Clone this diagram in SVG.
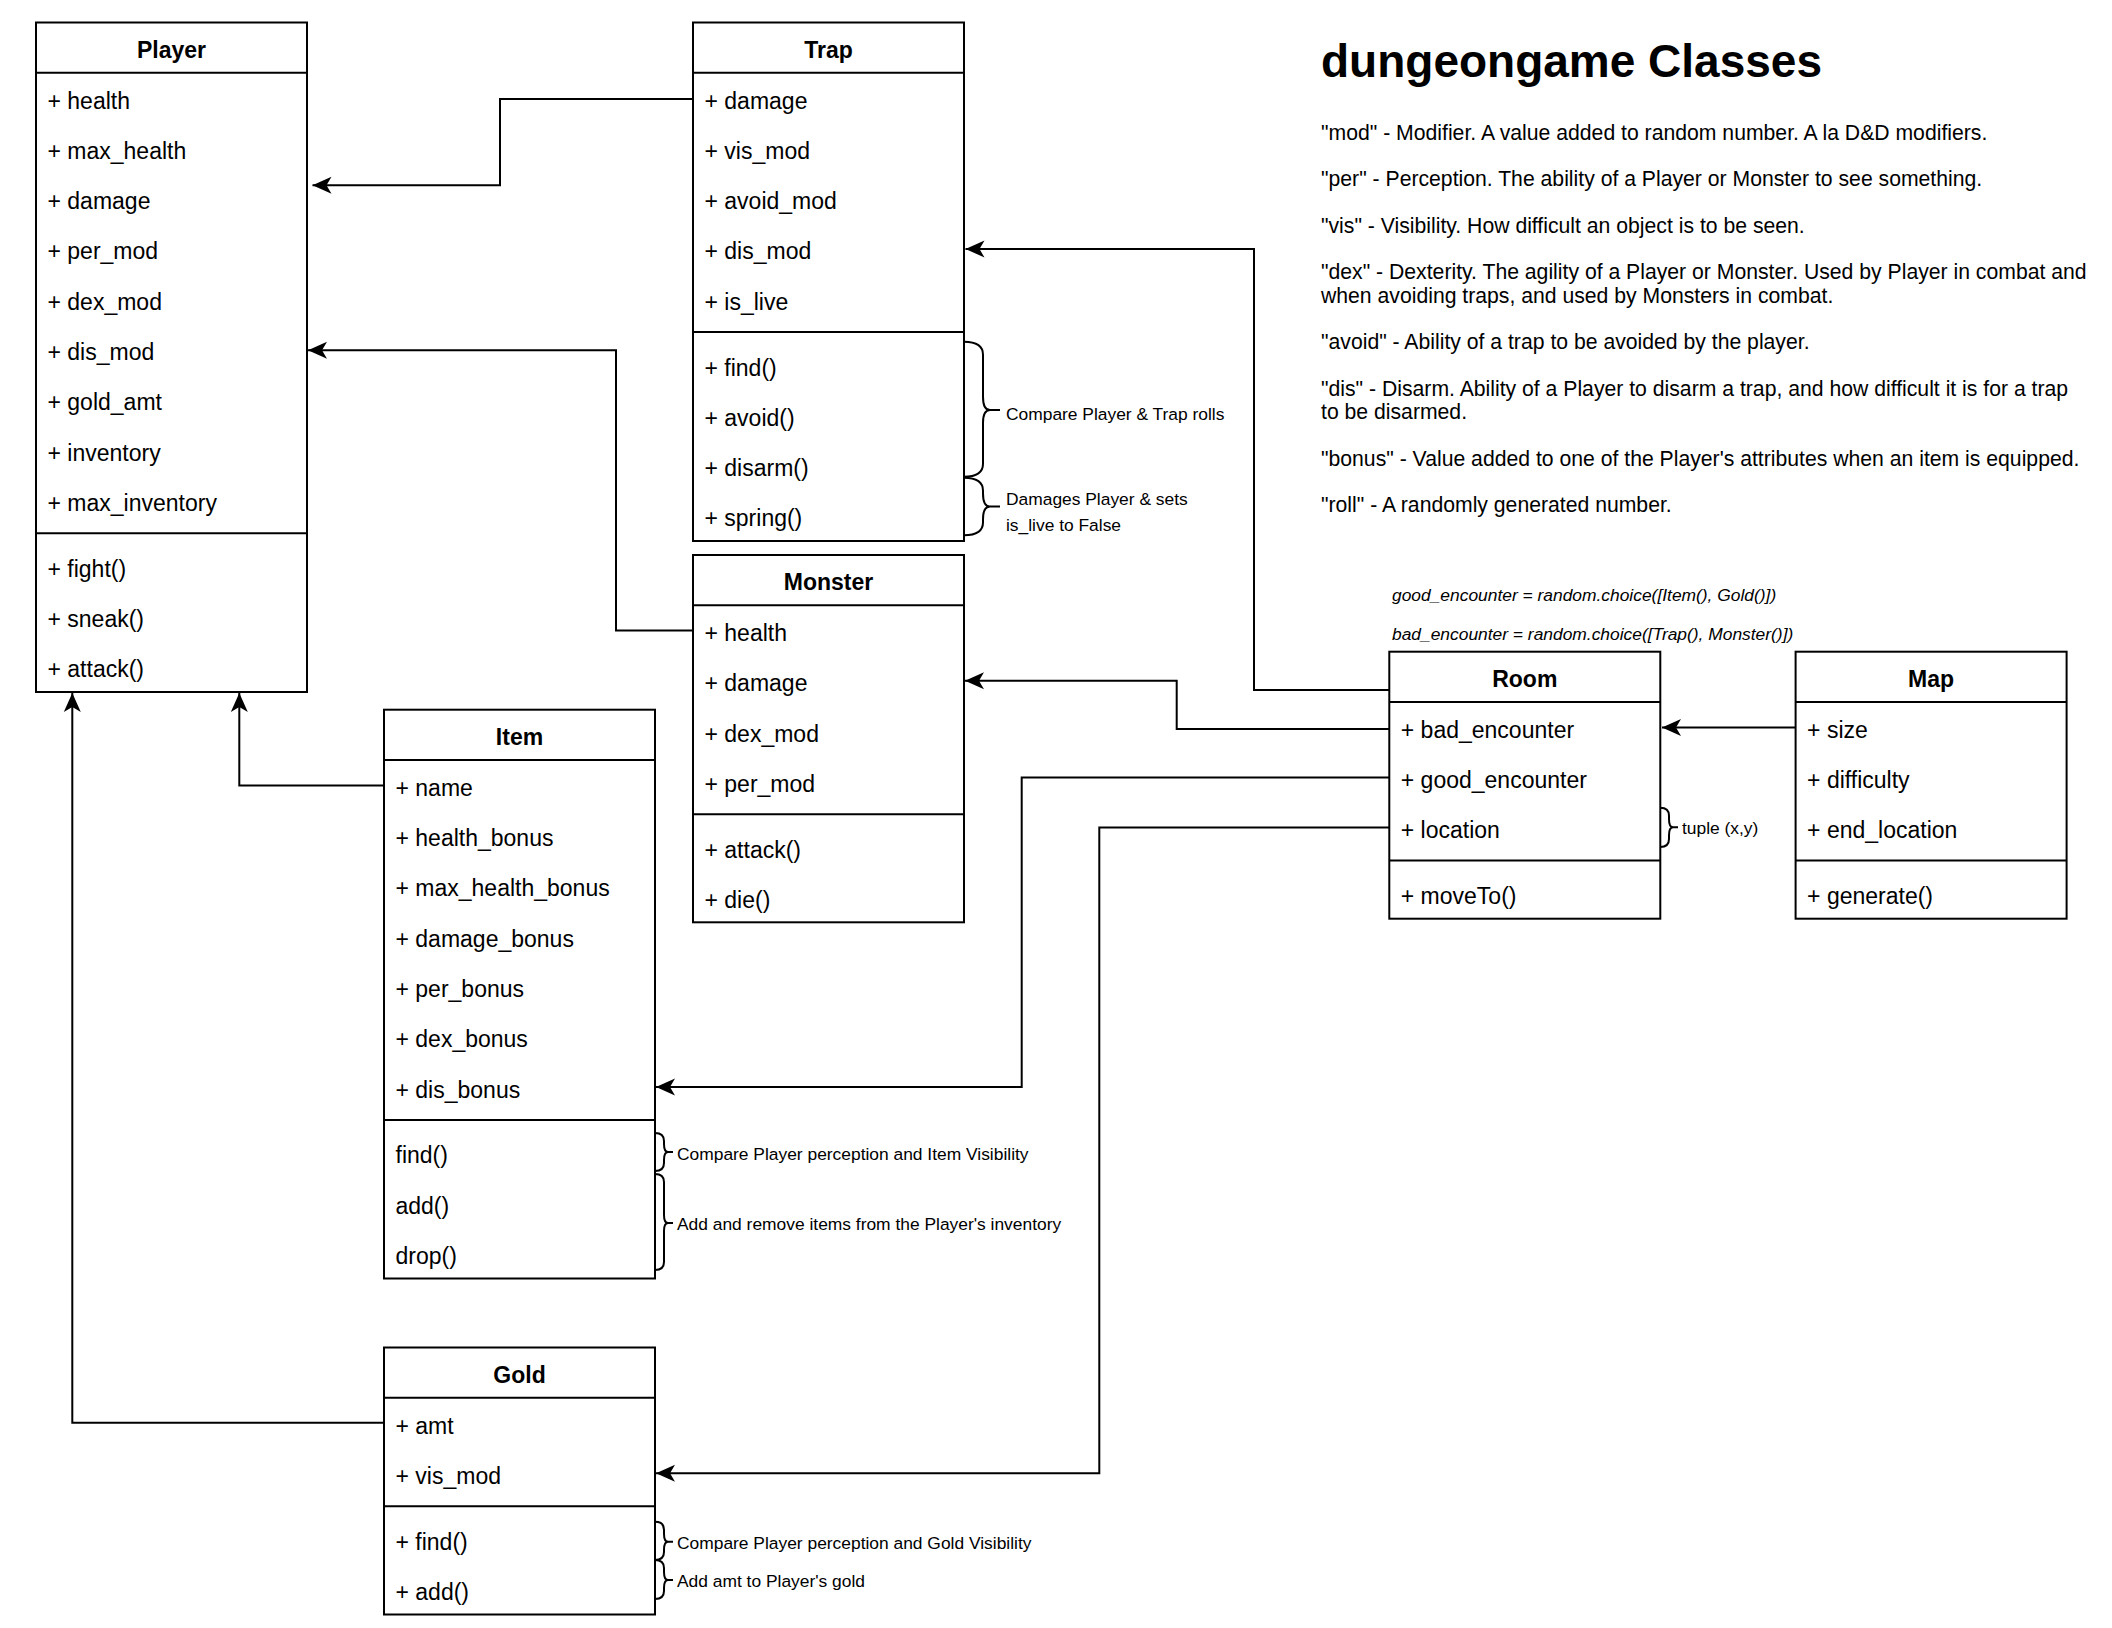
<svg xmlns="http://www.w3.org/2000/svg" width="2112" height="1628" viewBox="0 0 2112 1628">
<style>
.box{fill:#fff;stroke:#000;stroke-width:2}
.ln{stroke:#000;stroke-width:2;fill:none}
.t{font-family:"Liberation Sans",Arial,Helvetica,sans-serif;font-size:23px;fill:#000}
.h{font-family:"Liberation Sans",Arial,Helvetica,sans-serif;font-size:23px;font-weight:bold;fill:#000;text-anchor:middle}
.n{font-family:"Liberation Sans",Arial,Helvetica,sans-serif;font-size:21.2px;fill:#000}
.s{font-family:"Liberation Sans",Arial,Helvetica,sans-serif;font-size:17.4px;fill:#000}
.i{font-family:"Liberation Sans",Arial,Helvetica,sans-serif;font-size:17.4px;font-style:italic;fill:#000}
.title{font-family:"Liberation Sans",Arial,Helvetica,sans-serif;font-size:46px;font-weight:bold;fill:#000}
.conn{stroke:#000;stroke-width:2;fill:none;marker-end:url(#arr)}
.brace{stroke:#000;stroke-width:2;fill:none}
</style>
<defs>
<marker id="arr" markerUnits="userSpaceOnUse" markerWidth="22" markerHeight="22" viewBox="-21 -11 22 22" refX="0" refY="0" orient="auto">
<path d="M0,0 L-19,-8.5 L-14,0 L-19,8.5 Z" fill="#000"/>
</marker>
</defs>
<rect width="2112" height="1628" fill="#fff"/>

<g id="connectors">
<path class="conn" d="M693,99 H500 V185.3 H312.5"/>
<path class="conn" d="M693,630.5 H616 V350.3 H308"/>
<path class="conn" d="M384,785.5 H239.3 V693"/>
<path class="conn" d="M384,1422.8 H72.3 V693"/>
<path class="conn" d="M1389.3,690 H1254 V249 H965.5"/>
<path class="conn" d="M1389.3,729 H1176.7 V680.8 H965"/>
<path class="conn" d="M1389.3,777.4 H1021.7 V1087 H656"/>
<path class="conn" d="M1389.3,827.4 H1099.3 V1473.3 H656"/>
<path class="conn" d="M1795.6,727.5 H1662"/>
</g>

<g id="Player">
<rect class="box" x="36" y="22.5" width="271" height="669.5"/>
<line class="ln" x1="36" y1="72.8" x2="307" y2="72.8"/>
<line class="ln" x1="36" y1="533.3" x2="307" y2="533.3"/>
<text class="h" x="171.5" y="57.5">Player</text>
<text class="t" x="47.5" y="108.5">+ health</text>
<text class="t" x="47.5" y="158.8">+ max_health</text>
<text class="t" x="47.5" y="209.1">+ damage</text>
<text class="t" x="47.5" y="259.4">+ per_mod</text>
<text class="t" x="47.5" y="309.7">+ dex_mod</text>
<text class="t" x="47.5" y="360">+ dis_mod</text>
<text class="t" x="47.5" y="410.3">+ gold_amt</text>
<text class="t" x="47.5" y="460.6">+ inventory</text>
<text class="t" x="47.5" y="510.9">+ max_inventory</text>
<text class="t" x="47.5" y="576.7">+ fight()</text>
<text class="t" x="47.5" y="627">+ sneak()</text>
<text class="t" x="47.5" y="677.3">+ attack()</text>
</g>

<g id="Trap">
<rect class="box" x="693" y="22.5" width="271" height="518.5"/>
<line class="ln" x1="693" y1="72.8" x2="964" y2="72.8"/>
<line class="ln" x1="693" y1="332" x2="964" y2="332"/>
<text class="h" x="828.5" y="57.5">Trap</text>
<text class="t" x="704.5" y="108.5">+ damage</text>
<text class="t" x="704.5" y="158.8">+ vis_mod</text>
<text class="t" x="704.5" y="209.1">+ avoid_mod</text>
<text class="t" x="704.5" y="259.4">+ dis_mod</text>
<text class="t" x="704.5" y="309.7">+ is_live</text>
<text class="t" x="704.5" y="375.5">+ find()</text>
<text class="t" x="704.5" y="425.8">+ avoid()</text>
<text class="t" x="704.5" y="476.1">+ disarm()</text>
<text class="t" x="704.5" y="526.4">+ spring()</text>
</g>

<g id="Monster">
<rect class="box" x="693" y="555" width="271" height="367.3"/>
<line class="ln" x1="693" y1="605.3" x2="964" y2="605.3"/>
<line class="ln" x1="693" y1="814.3" x2="964" y2="814.3"/>
<text class="h" x="828.5" y="590">Monster</text>
<text class="t" x="704.5" y="641">+ health</text>
<text class="t" x="704.5" y="691.3">+ damage</text>
<text class="t" x="704.5" y="741.6">+ dex_mod</text>
<text class="t" x="704.5" y="791.9">+ per_mod</text>
<text class="t" x="704.5" y="857.7">+ attack()</text>
<text class="t" x="704.5" y="908">+ die()</text>
</g>

<g id="Item">
<rect class="box" x="384" y="709.7" width="271" height="568.8"/>
<line class="ln" x1="384" y1="760" x2="655" y2="760"/>
<line class="ln" x1="384" y1="1119.9" x2="655" y2="1119.9"/>
<text class="h" x="519.5" y="744.7">Item</text>
<text class="t" x="395.5" y="795.7">+ name</text>
<text class="t" x="395.5" y="846">+ health_bonus</text>
<text class="t" x="395.5" y="896.3">+ max_health_bonus</text>
<text class="t" x="395.5" y="946.6">+ damage_bonus</text>
<text class="t" x="395.5" y="996.9">+ per_bonus</text>
<text class="t" x="395.5" y="1047.2">+ dex_bonus</text>
<text class="t" x="395.5" y="1097.5">+ dis_bonus</text>
<text class="t" x="395.5" y="1163.3">find()</text>
<text class="t" x="395.5" y="1213.6">add()</text>
<text class="t" x="395.5" y="1263.9">drop()</text>
</g>

<g id="Gold">
<rect class="box" x="384" y="1347.5" width="271" height="267"/>
<line class="ln" x1="384" y1="1397.8" x2="655" y2="1397.8"/>
<line class="ln" x1="384" y1="1506.2" x2="655" y2="1506.2"/>
<text class="h" x="519.5" y="1382.5">Gold</text>
<text class="t" x="395.5" y="1433.5">+ amt</text>
<text class="t" x="395.5" y="1483.8">+ vis_mod</text>
<text class="t" x="395.5" y="1549.6">+ find()</text>
<text class="t" x="395.5" y="1599.9">+ add()</text>
</g>

<g id="Room">
<rect class="box" x="1389.3" y="651.7" width="271" height="267"/>
<line class="ln" x1="1389.3" y1="702" x2="1660.3" y2="702"/>
<line class="ln" x1="1389.3" y1="860.6" x2="1660.3" y2="860.6"/>
<text class="h" x="1524.8" y="686.7">Room</text>
<text class="t" x="1400.8" y="737.7">+ bad_encounter</text>
<text class="t" x="1400.8" y="788">+ good_encounter</text>
<text class="t" x="1400.8" y="838.3">+ location</text>
<text class="t" x="1400.8" y="904.1">+ moveTo()</text>
</g>

<g id="Map">
<rect class="box" x="1795.6" y="651.7" width="271" height="267"/>
<line class="ln" x1="1795.6" y1="702" x2="2066.6" y2="702"/>
<line class="ln" x1="1795.6" y1="860.6" x2="2066.6" y2="860.6"/>
<text class="h" x="1931.1" y="686.7">Map</text>
<text class="t" x="1807.1" y="737.7">+ size</text>
<text class="t" x="1807.1" y="788">+ difficulty</text>
<text class="t" x="1807.1" y="838.3">+ end_location</text>
<text class="t" x="1807.1" y="904.1">+ generate()</text>
</g>

<g id="trap-notes">
<path class="brace" d="M964,341.7 Q983,341.7 983,354.7 L983,397 Q983,410 990,410 L1000,410 M990,410 Q983,410 983,423 L983,463.7 Q983,476.7 964,476.7"/>
<path class="brace" d="M964,477.7 Q983,477.7 983,490.7 L983,493.5 Q983,506.5 990,506.5 L1000,506.5 M990,506.5 Q983,506.5 983,519.5 L983,522.3 Q983,535.3 964,535.3"/>
<text class="s" x="1006" y="419.5">Compare Player &amp; Trap rolls</text>
<text class="s" x="1006" y="504.5">Damages Player &amp; sets</text>
<text class="s" x="1006" y="531">is_live to False</text>
</g>

<g id="item-notes">
<path class="brace" d="M655,1133 Q664,1133 664,1141 L664,1144 Q664,1152 668,1152 L673,1152 M668,1152 Q664,1152 664,1160 L664,1163 Q664,1171 655,1171"/>
<path class="brace" d="M655,1174 Q664,1174 664,1182 L664,1215 Q664,1223 668,1223 L673,1223 M668,1223 Q664,1223 664,1231 L664,1262 Q664,1270 655,1270"/>
<text class="s" x="677" y="1159.8">Compare Player perception and Item Visibility</text>
<text class="s" x="677" y="1230.2">Add and remove items from the Player's inventory</text>
</g>

<g id="gold-notes">
<path class="brace" d="M655,1521.7 Q664,1521.7 664,1529.7 L664,1533.7 Q664,1541.7 668,1541.7 L673,1541.7 M668,1541.7 Q664,1541.7 664,1549.7 L664,1552 Q664,1560 655,1560"/>
<path class="brace" d="M655,1560 Q664,1560 664,1568 L664,1572 Q664,1580 668,1580 L673,1580 M668,1580 Q664,1580 664,1588 L664,1591 Q664,1599 655,1599"/>
<text class="s" x="677" y="1548.8">Compare Player perception and Gold Visibility</text>
<text class="s" x="677" y="1586.8">Add amt to Player's gold</text>
</g>

<g id="room-notes">
<path class="brace" d="M1660.3,807.7 Q1669,807.7 1669,815.7 L1669,819.3 Q1669,827.3 1673,827.3 L1678,827.3 M1673,827.3 Q1669,827.3 1669,835.3 L1669,839 Q1669,847 1660.3,847"/>
<text class="s" x="1682" y="833.5">tuple (x,y)</text>
<text class="i" x="1392" y="601.3">good_encounter = random.choice([Item(), Gold()])</text>
<text class="i" x="1392" y="640">bad_encounter = random.choice([Trap(), Monster()])</text>
</g>

<g id="legend">
<text class="title" x="1321" y="76.5">dungeongame Classes</text>
<text class="n" x="1321" y="139.6">"mod" - Modifier. A value added to random number. A la D&amp;D modifiers.</text>
<text class="n" x="1321" y="186.2">"per" - Perception. The ability of a Player or Monster to see something.</text>
<text class="n" x="1321" y="232.8">"vis" - Visibility. How difficult an object is to be seen.</text>
<text class="n" x="1321" y="279.4">"dex" - Dexterity. The agility of a Player or Monster. Used by Player in combat and</text>
<text class="n" x="1321" y="302.7">when avoiding traps, and used by Monsters in combat.</text>
<text class="n" x="1321" y="349.3">"avoid" - Ability of a trap to be avoided by the player.</text>
<text class="n" x="1321" y="395.9">"dis" - Disarm. Ability of a Player to disarm a trap, and how difficult it is for a trap</text>
<text class="n" x="1321" y="419.2">to be disarmed.</text>
<text class="n" x="1321" y="465.8">"bonus" - Value added to one of the Player's attributes when an item is equipped.</text>
<text class="n" x="1321" y="512.4">"roll" - A randomly generated number.</text>
</g>
</svg>
